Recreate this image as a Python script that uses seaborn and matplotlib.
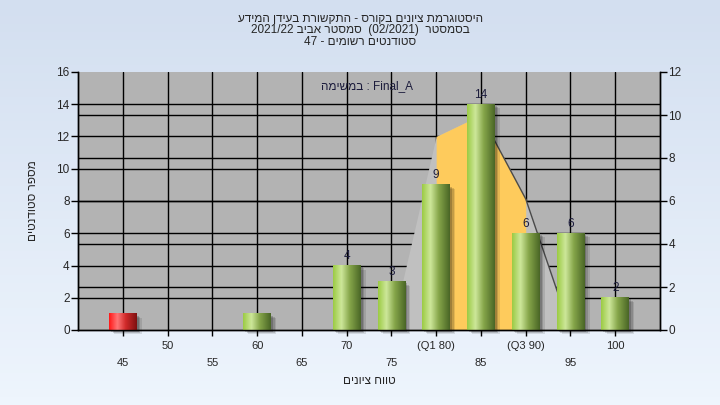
import re
import numpy as np
import matplotlib
matplotlib.use('Agg')
import matplotlib.pyplot as plt
from matplotlib.colors import to_rgb
from matplotlib.patches import Rectangle
from matplotlib.transforms import offset_copy
import seaborn as sns

# chart data
scores = ['45', '50', '55', '60', '65', '70', '75', '80', '85', '90', '95', '100']
counts = [1, 0, 0, 1, 0, 4, 3, 9, 14, 6, 6, 2]
tick_labels = ['45', '50', '55', '60', '65', '70', '75', '(Q1 80)', '85', '(Q3 90)', '95', '100']
curve_scores = ['75', '80', '85', '90', '95']
curve_values = [0, 9, 10, 6.1, 0]   # in right axis units
q1, q3 = '80', '90'
pass_mark = 55

title_lines = ['היסטוגרמת ציונים בקורס - התקשורת בעידן המידע',
               'בסמסטר  (02/2021)  סמסטר אביב 2021/22',
               'סטודנטים רשומים - 47']
legend_text = 'במשימה : Final_A'
xlabel = 'טווח ציונים'
ylabel = 'מספר סטודנטים'


def heb(s):
    # left-to-right line, only the Hebrew words read right to left
    return re.sub(r'[\u0590-\u05FF]+', lambda m: m.group(0)[::-1], s)


def rtl(s):
    # matplotlib has no bidi: lay out a right-to-left line by hand
    v = s[::-1]
    v = re.sub(r'[0-9A-Za-z_/.:]+', lambda m: m.group(0)[::-1], v)
    return v.translate(str.maketrans('()', ')('))


def gradient(stops, n=64):
    xs = np.linspace(0, 1, n)
    pos = [p for p, c in stops]
    cols = np.array([to_rgb(c) for p, c in stops])
    return np.stack([np.interp(xs, pos, cols[:, i]) for i in range(3)], axis=-1)[None, :, :]


green = gradient([(0, '#9ccb44'), (0.3, '#cde79a'), (0.6, '#86a64a'), (1, '#4a6626')])
red = gradient([(0, '#ff1818'), (0.3, '#ff7676'), (0.6, '#d02a2a'), (1, '#7e1010')])

sns.set_style('ticks')
plt.rcParams['font.family'] = ['Liberation Sans', 'DejaVu Sans']
plt.rcParams['font.size'] = 8

fig = plt.figure(figsize=(7.2, 4.05), dpi=100)

# background of the whole picture
bg = fig.add_axes([0, 0, 1, 1], zorder=-1)
bg.imshow(np.stack([np.linspace(0, 1, 50)] * 2, axis=1), aspect='auto',
          cmap=matplotlib.colors.LinearSegmentedColormap.from_list('bg', ['#d3dff0', '#eef5fd']),
          extent=(0, 1, 0, 1))
bg.axis('off')

ax = fig.add_axes([78 / 720, 1 - 330 / 405, 582 / 720, 258 / 405])
ax.set_facecolor('#b3b3b3')

sns.barplot(x=scores, y=counts, order=scores, width=0.62, color='#9ccb44', ax=ax, zorder=3)

ymax, ymax_r = 16, 12
k = ymax / ymax_r

# grid lines for both y axes and each category
for t in np.arange(2, ymax, 2):
    ax.axhline(t, color='black', lw=1, zorder=1)
for t in np.arange(2, ymax_r, 2):
    ax.axhline(t * k, color='black', lw=1, zorder=1)
for i in range(len(scores)):
    ax.axvline(i, color='black', lw=1, zorder=1)

# distribution area, yellow between the quartiles
cx = np.array([scores.index(s) for s in curve_scores])
cy = np.array(curve_values) * k
ax.fill_between(cx, cy, color='#c0c0c0', lw=0, zorder=1.5)
inq = (cx >= scores.index(q1)) & (cx <= scores.index(q3))
ax.fill_between(cx[inq], cy[inq], color='#fecb5c', lw=0, zorder=1.6)
peak = int(np.argmax(cy))
ax.plot(cx[peak:], cy[peak:], color='#4a4a4a', lw=1, zorder=1.7)

# cylinder look for the bars
for i, p in enumerate(ax.patches):
    h = p.get_height()
    p.set_facecolor('none')
    p.set_edgecolor('none')
    if h <= 0:
        continue
    x0, w = p.get_x(), p.get_width()
    for d, a in [(2, 0.18), (3.5, 0.14), (5, 0.10)]:
        sh = Rectangle((x0, 0), w, h, color='black', alpha=a, lw=0, zorder=2.5, clip_on=False,
                       transform=offset_copy(ax.transData, fig, x=d * 0.75, y=-d * 0.6, units='points'))
        ax.add_patch(sh)
    img = red if int(scores[i]) < pass_mark else green
    ax.imshow(img, extent=(x0, x0 + w, 0, h), aspect='auto', zorder=3, interpolation='bilinear')
    if h > 1:
        ax.annotate(f'{h:g}', (x0 + w / 2, h), xytext=(0, 2.5), textcoords='offset points',
                    ha='center', va='bottom', fontsize=8.5, color='#1c1c3c')

ax.set_xlim(-1, len(scores))
ax.set_ylim(0, ymax)
ax.set_yticks(np.arange(0, ymax + 1, 2))

# category labels on two rows
pos = np.arange(len(scores))
ax.set_xticks(pos[1::2], [tick_labels[i] for i in pos[1::2]])
ax.set_xticks(pos[0::2], [tick_labels[i] for i in pos[0::2]], minor=True)
ax.tick_params(axis='x', which='both', length=4, width=1, color='black', labelsize=8)
ax.tick_params(axis='x', which='major', pad=4)
ax.tick_params(axis='x', which='minor', pad=16.5)
ax.tick_params(axis='y', length=5, width=1, color='black', labelsize=8.5, pad=1)

ax2 = ax.twinx()
ax2.set_ylim(0, ymax_r)
ax2.set_yticks(np.arange(0, ymax_r + 1, 2))
ax2.tick_params(axis='y', length=5, width=1, color='black', labelsize=8.5, pad=1)

for a in (ax, ax2):
    a.spines['top'].set_visible(False)
    for s in ('left', 'right', 'bottom'):
        a.spines[s].set_color('black')
        a.spines[s].set_linewidth(1)

ax.set_xlabel(rtl(xlabel), fontsize=8.5)
ax.xaxis.set_label_coords(0.5, (330 - 381) / 258)
ax.xaxis.label.set_va('center')
ax.set_ylabel(rtl(ylabel), fontsize=8.5)
ax.yaxis.set_label_coords(-0.077, 0.5)
ax.yaxis.label.set(va='center', ha='center')

ax.text(0.497, 0.946, heb(legend_text), transform=ax.transAxes, ha='center', va='center',
        fontsize=8.5, color='#1c1c3c', zorder=5)

for j, line in enumerate(title_lines):
    fig.text(0.5, 1 - (19 + 11.5 * j) / 405, rtl(line), ha='center', va='center', fontsize=8.5)

fig.savefig('out.png', dpi=100)
